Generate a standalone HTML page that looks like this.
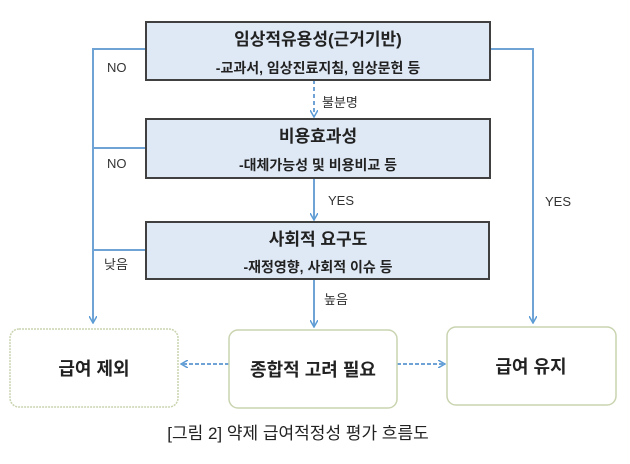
<!DOCTYPE html>
<html><head><meta charset="utf-8"><style>
body{margin:0;background:#fff;}
svg text{font-family:"Liberation Sans","Noto Sans CJK KR",sans-serif;}
</style></head><body>
<svg width="630" height="459" viewBox="0 0 630 459" xmlns="http://www.w3.org/2000/svg">
<defs><marker id="a" markerWidth="8" markerHeight="8" refX="6" refY="4" orient="auto" markerUnits="userSpaceOnUse"><path d="M0,0 L7,4 L0,8" fill="none" stroke="#5b9bd5" stroke-width="1.5"/></marker></defs>
<g stroke="#6fa3d6" stroke-width="2" fill="none">
<polyline points="146,49 93,49 93,322" marker-end="url(#a)"/>
<line x1="93" y1="148" x2="146" y2="148"/>
<line x1="93" y1="250" x2="146" y2="250"/>
<polyline points="490,49 533,49 533,322" marker-end="url(#a)"/>
<line x1="314" y1="80" x2="314" y2="116" stroke-dasharray="4,3" marker-end="url(#a)"/>
<line x1="314" y1="178" x2="314" y2="219" marker-end="url(#a)"/>
<line x1="314" y1="279" x2="314" y2="326" marker-end="url(#a)"/>
<line x1="229" y1="364" x2="182" y2="364" stroke-dasharray="4,2" marker-end="url(#a)"/>
<line x1="397" y1="364" x2="444" y2="364" stroke-dasharray="4,2" marker-end="url(#a)"/>
</g>
<g fill="#dfe9f6" stroke="#404040" stroke-width="2">
<rect x="146" y="22" width="344" height="58"/>
<rect x="146" y="119" width="344" height="59"/>
<rect x="146" y="222" width="343" height="57"/>
</g>
<g fill="#fff" stroke="#c9d4b0" stroke-width="1.5">
<rect x="10" y="329" width="168" height="78" rx="9" stroke-dasharray="2,1"/>
<rect x="229" y="330" width="168" height="78" rx="9"/>
<rect x="447" y="327" width="169" height="78" rx="9"/>
</g>
<g font-weight="bold" fill="#222" text-anchor="middle">
<text x="318" y="45" font-size="17">임상적유용성(근거기반)</text>
<text x="318" y="73" font-size="14">-교과서, 임상진료지침, 임상문헌 등</text>
<text x="318" y="142" font-size="17">비용효과성</text>
<text x="318" y="170" font-size="14">-대체가능성 및 비용비교 등</text>
<text x="318" y="245" font-size="17">사회적 요구도</text>
<text x="318" y="272" font-size="14">-재정영향, 사회적 이슈 등</text>
<text x="94" y="375" font-size="18">급여 제외</text>
<text x="313" y="376" font-size="18">종합적 고려 필요</text>
<text x="531" y="373" font-size="18">급여 유지</text>
</g>
<g fill="#333" font-size="13">
<text x="107" y="72">NO</text>
<text x="107" y="168">NO</text>
<text x="104" y="269">낮음</text>
<text x="322" y="107">불분명</text>
<text x="328" y="205">YES</text>
<text x="324" y="304">높음</text>
<text x="545" y="206">YES</text>
</g>
<text x="298" y="439" font-size="17" fill="#222" text-anchor="middle">[그림 2] 약제 급여적정성 평가 흐름도</text>
</svg>
</body></html>
